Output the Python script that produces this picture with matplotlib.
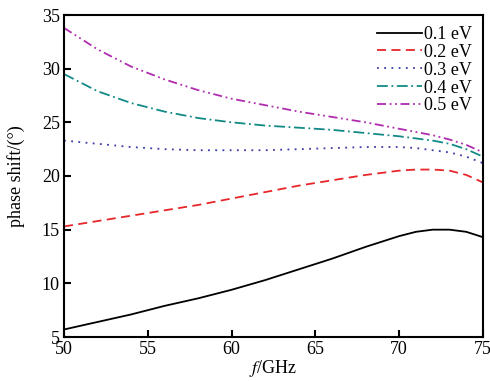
import matplotlib
matplotlib.use("Agg")
import matplotlib.pyplot as plt
import numpy as np

plt.rcParams['font.family'] = ['Liberation Serif', 'DejaVu Serif']
plt.rcParams['mathtext.fontset'] = 'stix'

f = [50, 52, 54, 56, 58, 60, 62, 64, 66, 68, 70, 71, 72, 73, 74, 75]
s01 = [5.7, 6.4, 7.1, 7.9, 8.6, 9.4, 10.3, 11.3, 12.3, 13.4, 14.4, 14.8, 15.0, 15.0, 14.8, 14.3]
s02 = [15.3, 15.8, 16.3, 16.8, 17.3, 17.9, 18.5, 19.1, 19.6, 20.1, 20.5, 20.6, 20.6, 20.5, 20.1, 19.4]
s03 = [23.3, 23.0, 22.7, 22.5, 22.4, 22.4, 22.4, 22.5, 22.6, 22.7, 22.7, 22.6, 22.4, 22.2, 21.8, 21.2]
s04 = [29.5, 27.9, 26.8, 26.0, 25.4, 25.0, 24.7, 24.5, 24.3, 24.0, 23.7, 23.5, 23.3, 23.0, 22.5, 21.8]
s05 = [33.8, 31.8, 30.2, 29.0, 28.0, 27.2, 26.6, 26.0, 25.5, 25.0, 24.4, 24.1, 23.8, 23.4, 22.9, 22.2]
labels = ['0.1 eV', '0.2 eV', '0.3 eV', '0.4 eV', '0.5 eV']

fig = plt.figure(figsize=(4.9, 3.81), dpi=100)
ax = fig.add_axes([64/490, 44/381, 419/490, 322/381])

ax.plot(f, s01, color='black', lw=1.3, ls='-', label=labels[0])
ax.plot(f, s02, color='#e8262a', lw=1.3, ls=(0, (5, 3)), label=labels[1])
ax.plot(f, s03, color='#3a3aa8', lw=1.3, ls=(0, (1, 3)), label=labels[2])
ax.plot(f, s04, color='#138a86', lw=1.3, ls=(0, (6, 2, 1, 2)), label=labels[3])
ax.plot(f, s05, color='#b02cae', lw=1.3, ls=(0, (5, 2, 1, 2, 1, 2)), label=labels[4])

ax.set_xlim(50, 75)
ax.set_ylim(5, 35)
ax.set_xticks([50, 55, 60, 65, 70, 75])
ax.set_yticks([5, 10, 15, 20, 25, 30, 35])
ax.tick_params(direction='in', length=5, width=1.5, labelsize=13, pad=3)
for sp in ax.spines.values():
    sp.set_linewidth(1.5)
ax.set_xlabel(r'$f$/GHz', fontsize=13, labelpad=0)
ax.set_ylabel('phase shift/(°)', fontsize=13, labelpad=12)

leg = ax.legend(loc='upper right', frameon=False, fontsize=13, handlelength=2.5,
                handletextpad=0.1, labelspacing=0.05, borderaxespad=0.2)

fig.savefig('out.png', dpi=100)
